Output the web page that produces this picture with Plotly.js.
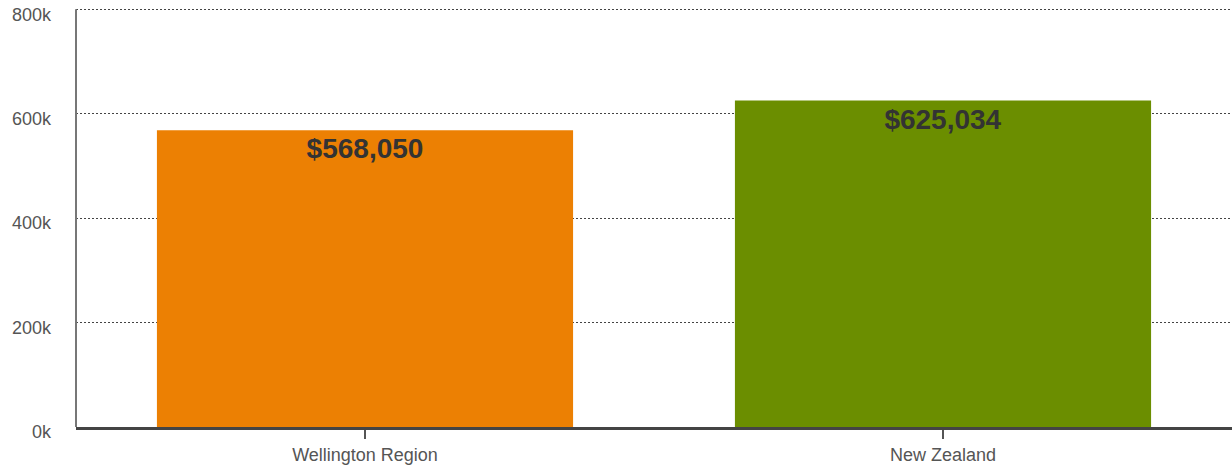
<!DOCTYPE html>
<html>
<head>
<meta charset="utf-8">
<script src="https://cdn.plot.ly/plotly-3.0.1.min.js"></script>
<style>html,body{margin:0;padding:0;background:#fff;}#chart{width:1232px;height:470px;}</style>
</head>
<body>
<div id="chart"></div>
<script>
const categories = ["Wellington Region", "New Zealand"];
const values = [568050, 625034];
const barColors = ["#EC8003", "#6B8E00"];
const yTickVals = [0, 200000, 400000, 600000, 800000];
const yTickText = ["0k", "200k", "400k", "600k", "800k"];

const trace = {
  type: "bar",
  x: categories,
  y: values,
  marker: {color: barColors},
  texttemplate: "$%{y:,.0f}",
  textposition: "inside",
  insidetextanchor: "end",
  constraintext: "none",
  textfont: {family: "Liberation Sans, Arial, sans-serif", size: 28, color: "#333333", weight: "bold"},
  hoverinfo: "none"
};

const layout = {
  width: 1232, height: 470,
  margin: {l: 76, r: 0, t: 4, b: 43},
  paper_bgcolor: "#ffffff",
  plot_bgcolor: "#ffffff",
  bargap: 0.28,
  showlegend: false,
  font: {family: "Liberation Sans, Arial, sans-serif", color: "#555555", size: 18},
  xaxis: {
    showgrid: false,
    showline: true, linecolor: "#444444", linewidth: 3,
    ticks: "outside", ticklen: 9, tickcolor: "#555555", tickwidth: 1.5,
    tickfont: {size: 18, color: "#555555"},
    fixedrange: true
  },
  yaxis: {
    range: [0, 810000],
    tickvals: yTickVals, ticktext: yTickText,
    showgrid: true, gridcolor: "#444444", gridwidth: 1, griddash: "2px,2px",
    zeroline: false,
    showline: false,
    ticks: "", ticklabelstandoff: 24, ticklabelshift: 5,
    tickfont: {size: 18, color: "#555555"},
    fixedrange: true
  },
  shapes: [{
    type: "line", xref: "paper", yref: "y",
    x0: 0, x1: 0, y0: 0, y1: yTickVals[yTickVals.length - 1],
    line: {color: "#777777", width: 2}
  }]
};

Plotly.newPlot("chart", [trace], layout, {displayModeBar: false, staticPlot: true});
</script>
</body>
</html>
